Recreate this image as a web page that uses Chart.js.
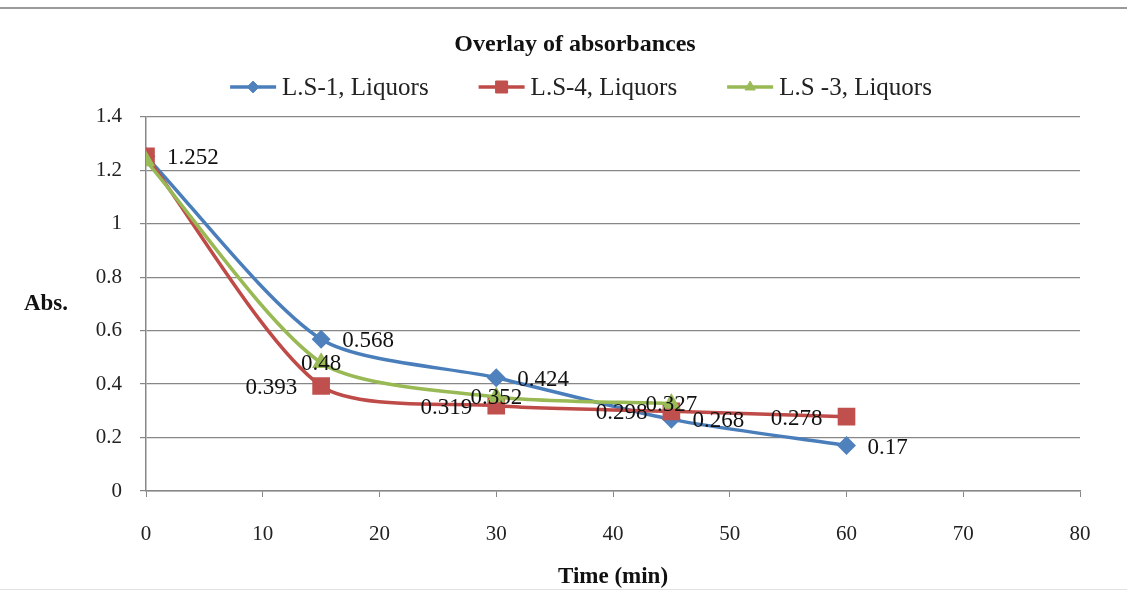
<!DOCTYPE html>
<html>
<head>
<meta charset="utf-8">
<script src="https://cdn.jsdelivr.net/npm/chart.js@4.4.0/dist/chart.umd.min.js"></script>
<style>
  html, body { margin: 0; padding: 0; background: #fff; }
</style>
</head>
<body>
<canvas id="canvas" width="1127" height="591"></canvas>
<script>
// values
const times = [0, 15, 30, 45, 60];
const ls1 = [1.252, 0.568, 0.424, 0.268, 0.17];
const ls4 = [1.252, 0.393, 0.319, 0.298, 0.278];
const ls3 = [1.235, 0.48, 0.352, 0.327];
const seriesNames = ['L.S-1, Liquors', 'L.S-4, Liquors', 'L.S -3, Liquors'];
const yTicks = [0, 0.2, 0.4, 0.6, 0.8, 1, 1.2, 1.4];
const xTicks = [0, 10, 20, 30, 40, 50, 60, 70, 80];

const serif = "'Liberation Serif', 'Times New Roman', serif";
const gridGray = '#878787';

function toPoints(vals){
  return vals.map((v, i) => ({x: times[i], y: v}));
}

// where each series puts its value labels
const labelSide = ['right', 'left', 'center'];
const hideFirst = [true, false, true];

const pageFrame = {
  id: 'pageFrame',
  beforeDraw(chart){
    const ctx = chart.ctx;
    ctx.save();
    ctx.strokeStyle = '#9a9a9a';
    ctx.lineWidth = 2;
    ctx.beginPath();
    ctx.moveTo(0, 8); ctx.lineTo(chart.width, 8);
    ctx.stroke();
    ctx.strokeStyle = '#e2e2e2';
    ctx.lineWidth = 1;
    ctx.beginPath();
    ctx.moveTo(0, 589.5); ctx.lineTo(chart.width, 589.5);
    ctx.stroke();
    ctx.restore();
  }
};

const valueLabels = {
  id: 'valueLabels',
  afterDatasetsDraw(chart){
    const ctx = chart.ctx;
    ctx.save();
    ctx.font = '23px ' + serif;
    ctx.fillStyle = '#111';
    ctx.textBaseline = 'middle';
    chart.data.datasets.forEach((ds, di) => {
      const meta = chart.getDatasetMeta(di);
      meta.data.forEach((pt, i) => {
        if(i === 0 && hideFirst[di]) return;
        const txt = String(ds.data[i].y);
        let side = labelSide[di];
        if(di === 1 && i === 0) side = 'right';
        if(side === 'right'){
          ctx.textAlign = 'left';
          ctx.fillText(txt, pt.x + 21, pt.y + 2);
        } else if(side === 'left'){
          ctx.textAlign = 'right';
          ctx.fillText(txt, pt.x - 24, pt.y + 2);
        } else {
          ctx.textAlign = 'center';
          ctx.fillText(txt, pt.x, pt.y + 1);
        }
      });
    });
    ctx.restore();
  }
};

function marker(ctx, style, x, y, r, color){
  ctx.save();
  ctx.fillStyle = color;
  ctx.strokeStyle = color;
  ctx.lineWidth = 1;
  if(Chart.helpers && Chart.helpers.drawPoint){
    Chart.helpers.drawPoint(ctx, {pointStyle: style, radius: r, rotation: 0, borderWidth: 1}, x, y);
  } else {
    ctx.beginPath(); ctx.arc(x, y, r, 0, Math.PI * 2); ctx.fill();
  }
  ctx.restore();
}

const sideTitles = {
  id: 'sideTitles',
  afterDraw(chart){
    const ctx = chart.ctx;
    const area = chart.chartArea;
    ctx.save();
    // y axis title, kept horizontal
    ctx.font = 'bold 23px ' + serif;
    ctx.fillStyle = '#111';
    ctx.textAlign = 'center';
    ctx.textBaseline = 'middle';
    ctx.fillText('Abs.', 46, (area.top + area.bottom) / 2);

    // legend: line with marker, then text
    ctx.font = '25px ' + serif;
    const lineLen = 46, gapText = 6, gapItem = 50;
    const items = chart.data.datasets;
    let total = 0;
    items.forEach((ds, i) => {
      total += lineLen + gapText + ctx.measureText(ds.label).width;
      if(i < items.length - 1) total += gapItem;
    });
    let x = 581 - total / 2;
    const y = 87;
    items.forEach(ds => {
      ctx.strokeStyle = ds.borderColor;
      ctx.lineWidth = ds.borderWidth;
      ctx.beginPath();
      ctx.moveTo(x, y); ctx.lineTo(x + lineLen, y);
      ctx.stroke();
      marker(ctx, ds.pointStyle, x + lineLen / 2, y, ds.pointRadius * 0.85, ds.pointBackgroundColor);
      x += lineLen + gapText;
      ctx.fillStyle = '#222';
      ctx.textAlign = 'left';
      ctx.fillText(ds.label, x, y + 1);
      x += ctx.measureText(ds.label).width + gapItem;
    });
    ctx.restore();
  }
};

const ctx = document.getElementById('canvas');

new Chart(ctx, {
  type: 'line',
  plugins: [pageFrame, valueLabels, sideTitles],
  data: {
    datasets: [
      {
        label: seriesNames[0],
        data: toPoints(ls1),
        borderColor: '#4A7EBB',
        backgroundColor: '#4F81BD',
        pointBackgroundColor: '#4F81BD',
        pointBorderColor: '#4F81BD',
        pointStyle: 'rectRot',
        pointRadius: 7,
        borderWidth: 3.5,
        tension: 0.25,
        order: 2
      },
      {
        label: seriesNames[1],
        data: toPoints(ls4),
        borderColor: '#BE4B48',
        backgroundColor: '#C0504D',
        pointBackgroundColor: '#C0504D',
        pointBorderColor: '#C0504D',
        pointStyle: 'rect',
        pointRadius: 10,
        borderWidth: 3.5,
        tension: 0.25,
        order: 1
      },
      {
        label: seriesNames[2],
        data: toPoints(ls3),
        borderColor: '#98B954',
        backgroundColor: '#9BBB59',
        pointBackgroundColor: '#9BBB59',
        pointBorderColor: '#9BBB59',
        pointStyle: 'triangle',
        pointRadius: 7,
        borderWidth: 3.5,
        tension: 0.25,
        order: 0
      }
    ]
  },
  options: {
    responsive: false,
    animation: false,
    layout: {
      padding: {left: 70, right: 47, top: 0, bottom: 0}
    },
    plugins: {
      legend: { display: false },
      tooltip: { enabled: false },
      title: {
        display: true,
        text: 'Overlay of absorbances',
        color: '#111',
        font: {family: serif, size: 24, weight: 'bold'},
        padding: {top: 30, bottom: 58}
      }
    },
    scales: {
      x: {
        type: 'linear',
        min: 0,
        max: 80,
        afterBuildTicks(scale){
          scale.ticks = xTicks.map(v => ({value: v}));
        },
        afterFit(scale){
          scale.height = 100;
        },
        border: { color: gridGray, width: 1.5 },
        grid: {
          drawOnChartArea: false,
          drawTicks: true,
          tickLength: 6,
          color: gridGray
        },
        ticks: {
          color: '#222',
          padding: 25,
          font: {family: serif, size: 21}
        },
        title: {
          display: true,
          text: 'Time (min)',
          color: '#111',
          font: {family: serif, size: 23, weight: 'bold'},
          padding: {top: 0, bottom: 0}
        }
      },
      y: {
        min: 0,
        max: 1.4,
        afterBuildTicks(scale){
          scale.ticks = yTicks.map(v => ({value: v}));
        },
        afterFit(scale){
          scale.width = 76;
        },
        border: { color: gridGray, width: 1.5 },
        grid: {
          color: gridGray,
          lineWidth: 1.2,
          tickLength: 6
        },
        ticks: {
          color: '#222',
          padding: 18,
          font: {family: serif, size: 21},
          callback: (v) => String(v)
        }
      }
    }
  }
});
</script>
</body>
</html>
